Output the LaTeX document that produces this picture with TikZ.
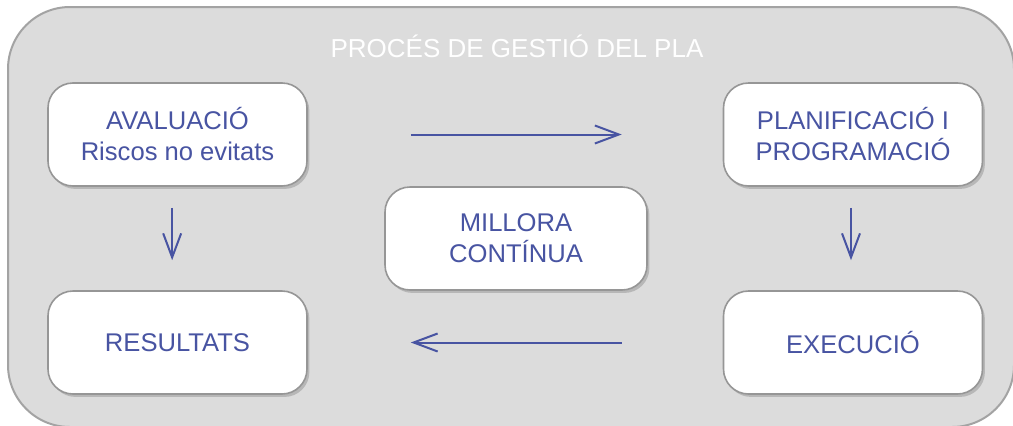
\documentclass[tikz,border=0pt]{standalone}
\usepackage{fontspec}
\setmainfont{Liberation Sans}
\usetikzlibrary{arrows.meta,shadows}
\definecolor{fonsgris}{RGB}{220,220,220}
\definecolor{voragris}{RGB}{163,163,163}
\definecolor{blaupla}{RGB}{72,84,162}
\tikzset{every picture/.style={line width=0.75pt}}
\tikzset{
  caixa/.style={draw={rgb,255:red,150;green,150;blue,150}, line width=1.2pt, fill=white,
    rounded corners=18.75pt, minimum width=194.25pt, minimum height=77.25pt, inner sep=0pt,
    align=center, text=blaupla, font=\fontsize{19.2}{23.25}\selectfont,
    drop shadow={shadow xshift=1.8pt, shadow yshift=-2.2pt, opacity=0.4}},
  fletxa/.style={draw=blaupla, line width=1.5pt, -{Straight Barb[length=18pt,width=13.5pt,line width=1.5pt]}}
}

\begin{document}
\begin{tikzpicture}[x=0.75pt,y=0.75pt,yscale=-1,xscale=1]
\useasboundingbox (0,0) rectangle (1013,425);

%Shape: Rounded Rect [fons]
\draw [draw=voragris, fill=fonsgris, line width=1.5pt, rounded corners=46.5pt] (8,7) rectangle (1014,427);

% Text Node
\node (titol) [anchor=base, text=white, font=\fontsize{19.5}{23}\selectfont] at (517,57) {PROCÉS DE GESTIÓ DEL PLA};

% Boxes
\node (aval) [caixa] at (177.5,134.5) {AVALUACIÓ\\Riscos no evitats};
\node (plan) [caixa] at (853,134.5) {PLANIFICACIÓ I\\PROGRAMACIÓ};
\node (resul) [caixa] at (177.5,342.5) {RESULTATS};
\node (exec) [caixa] at (853,342.5) {EXECUCIÓ};
\node (millora) [caixa, minimum width=196.5pt] at (516,238.5) {MILLORA\\CONTÍNUA};

%Straight Lines
\draw [fletxa, shorten <=77.25pt, shorten >=75.75pt] (aval) -- (plan);
\draw [fletxa, shorten <=75.75pt, shorten >=77.25pt] (exec) -- (resul);
\draw [fletxa, shorten <=15.75pt, shorten >=22.5pt] ([xshift=-4pt]aval.south) -- ([xshift=-4pt]resul.north);
\draw [fletxa, shorten <=15.75pt, shorten >=22.5pt] ([xshift=-1.5pt]plan.south) -- ([xshift=-1.5pt]exec.north);

\end{tikzpicture}
\end{document}
